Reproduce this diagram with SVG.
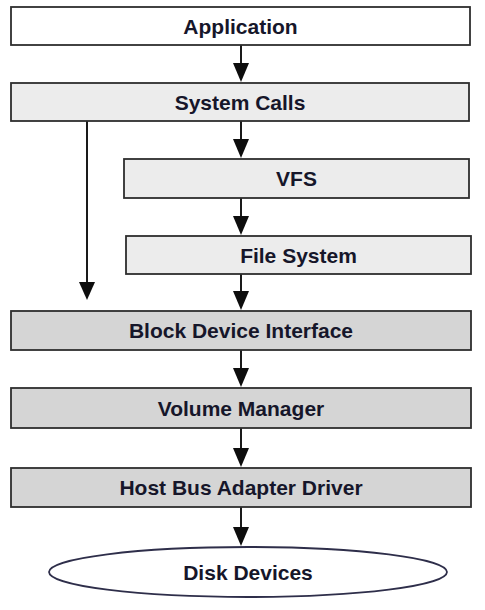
<svg xmlns="http://www.w3.org/2000/svg" width="485" height="610" viewBox="0 0 485 610">
<style>
.box{stroke:#2e2e2e;stroke-width:1.8}
.w{fill:#ffffff}
.l{fill:#ececec}
.d{fill:#d5d5d5}
.t{font-family:"Liberation Sans",Arial,sans-serif;font-weight:bold;font-size:21px;fill:#16162a;text-anchor:middle}
.c{stroke:#1a1a1a;stroke-width:2;fill:none}
.h{fill:#0d0d0d}
</style>
<rect width="485" height="610" fill="#ffffff"/>
<g id="connectors">
<line class="c" x1="241" y1="45" x2="241" y2="70"/><path class="h" d="M233,63 L249,63 L241,82 Z"/>
<line class="c" x1="241" y1="121" x2="241" y2="146"/><path class="h" d="M233,139 L249,139 L241,158 Z"/>
<line class="c" x1="241" y1="198" x2="241" y2="223"/><path class="h" d="M233,216 L249,216 L241,235 Z"/>
<line class="c" x1="241" y1="274" x2="241" y2="298"/><path class="h" d="M233,291 L249,291 L241,310 Z"/>
<line class="c" x1="87" y1="121" x2="87" y2="288"/><path class="h" d="M79,282 L95,282 L87,300 Z"/>
<line class="c" x1="241" y1="350" x2="241" y2="375"/><path class="h" d="M233,368 L249,368 L241,387 Z"/>
<line class="c" x1="241" y1="428" x2="241" y2="455"/><path class="h" d="M233,448 L249,448 L241,467 Z"/>
<line class="c" x1="241" y1="507" x2="241" y2="534"/><path class="h" d="M233,527 L249,527 L241,546 Z"/>
</g>
<g id="application"><rect class="box w" x="11" y="7" width="459" height="38"/><text class="t" x="240.5" y="33.5">Application</text></g>
<g id="system-calls"><rect class="box l" x="11" y="83" width="458" height="38"/><text class="t" x="240" y="109.5">System Calls</text></g>
<g id="vfs"><rect class="box l" x="124" y="159" width="345" height="39"/><text class="t" x="296.5" y="186">VFS</text></g>
<g id="file-system"><rect class="box l" x="126" y="236" width="345" height="38"/><text class="t" x="298.5" y="262.5">File System</text></g>
<g id="block-device-interface"><rect class="box d" x="11" y="311" width="460" height="39"/><text class="t" x="241" y="338">Block Device Interface</text></g>
<g id="volume-manager"><rect class="box d" x="11" y="388" width="460" height="40"/><text class="t" x="241" y="415.5">Volume Manager</text></g>
<g id="host-bus-adapter-driver"><rect class="box d" x="11" y="468" width="460" height="39"/><text class="t" x="241" y="495">Host Bus Adapter Driver</text></g>
<g id="disk-devices"><ellipse cx="248" cy="572" rx="199" ry="25" fill="#ffffff" stroke="#2e2e4a" stroke-width="1.8"/><text class="t" x="248" y="579.5">Disk Devices</text></g>
</svg>
